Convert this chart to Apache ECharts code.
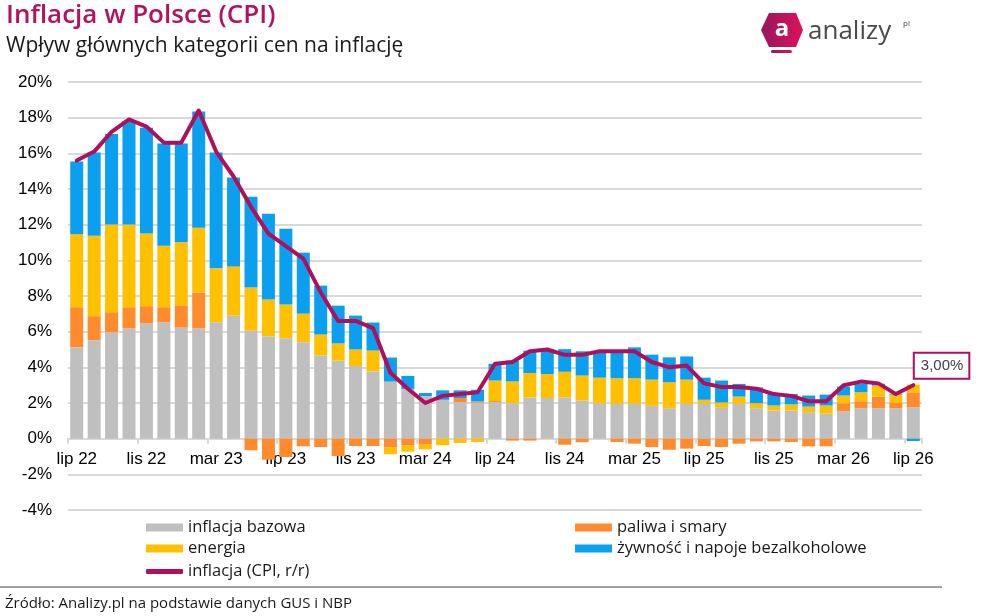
<!DOCTYPE html>
<html lang="pl">
<head>
<meta charset="utf-8">
<title>Inflacja w Polsce (CPI)</title>
<script src="https://cdn.jsdelivr.net/npm/echarts@6/dist/echarts.min.js"></script>
<style>
  html, body { margin: 0; padding: 0; background: #fff; }
  #chart { width: 984px; height: 616px; }
</style>
</head>
<body>
<div id="chart"></div>
<script>
// miesiace lip 22 - lip 26
var months = [
  'lip 22', 'sie 22', 'wrz 22', 'paź 22', 'lis 22', 'gru 22',
  'sty 23', 'lut 23', 'mar 23', 'kwi 23', 'maj 23', 'cze 23',
  'lip 23', 'sie 23', 'wrz 23', 'paź 23', 'lis 23', 'gru 23',
  'sty 24', 'lut 24', 'mar 24', 'kwi 24', 'maj 24', 'cze 24',
  'lip 24', 'sie 24', 'wrz 24', 'paź 24', 'lis 24', 'gru 24',
  'sty 25', 'lut 25', 'mar 25', 'kwi 25', 'maj 25', 'cze 25',
  'lip 25', 'sie 25', 'wrz 25', 'paź 25', 'lis 25', 'gru 25',
  'sty 26', 'lut 26', 'mar 26', 'kwi 26', 'maj 26', 'cze 26',
  'lip 26'
];

// wklad do inflacji (pkt proc.)
var bazowa = [
  5.13, 5.52, 5.97, 6.18, 6.47, 6.53, 6.23, 6.18, 6.53, 6.90, 6.06, 5.75,
  5.63, 5.41, 4.66, 4.38, 4.07, 3.77, 3.20, 2.79, 2.39, 2.18, 2.05, 2.01,
  2.05, 1.98, 2.31, 2.28, 2.32, 2.14, 1.99, 1.95, 1.95, 1.84, 1.71, 1.95,
  1.95, 1.73, 1.95, 1.71, 1.58, 1.58, 1.49, 1.40, 1.54, 1.71, 1.71, 1.71,
  1.77
];
var paliwa = [
  2.24, 1.35, 1.12, 1.19, 0.96, 0.84, 1.25, 2.01, 0.00, 0.00, -0.65, -1.18,
  -1.03, -0.43, -0.47, -0.97, -0.41, -0.41, -0.50, -0.39, -0.34, 0.00, 0.23, 0.08,
  0.06, -0.11, -0.11, 0.00, -0.34, -0.20, 0.00, -0.19, -0.28, -0.47, -0.62, -0.56,
  -0.41, -0.47, -0.28, -0.15, -0.15, -0.19, -0.43, -0.43, 0.45, 0.39, 0.65, 0.29,
  0.83
];
var energia = [
  4.09, 4.51, 4.92, 4.64, 4.08, 3.45, 3.53, 3.64, 3.02, 2.76, 2.41, 2.05,
  1.89, 1.60, 1.18, 0.96, 0.93, 1.17, -0.37, -0.34, -0.26, -0.37, -0.24, -0.19,
  1.15, 1.23, 1.37, 1.34, 1.43, 1.40, 1.43, 1.44, 1.44, 1.47, 1.45, 1.36,
  0.23, 0.30, 0.41, 0.28, 0.28, 0.34, 0.31, 0.46, 0.43, 0.50, 0.62, 0.47,
  0.43
];
var zywnosc = [
  4.08, 4.66, 5.08, 5.81, 5.93, 5.73, 5.54, 6.51, 6.49, 4.99, 5.09, 4.81,
  4.25, 3.42, 2.74, 2.12, 1.90, 1.57, 1.35, 0.73, 0.17, 0.53, 0.43, 0.65,
  0.94, 1.17, 1.26, 1.38, 1.27, 1.36, 1.47, 1.50, 1.73, 1.40, 1.40, 1.30,
  1.24, 1.23, 0.71, 0.89, 0.65, 0.59, 0.62, 0.61, 0.50, 0.47, 0.10, 0.05,
  -0.13
];
// CPI r/r (%)
var cpi = [
  15.6, 16.1, 17.2, 17.9, 17.5, 16.6, 16.6, 18.4, 16.1, 14.7, 13.0, 11.5,
  10.8, 10.1, 8.2, 6.6, 6.6, 6.2, 3.7, 2.8, 2.0, 2.4, 2.5, 2.6,
  4.2, 4.3, 4.9, 5.0, 4.7, 4.7, 4.9, 4.9, 4.9, 4.3, 4.0, 4.1,
  3.1, 2.9, 2.9, 2.8, 2.5, 2.4, 2.1, 2.1, 3.0, 3.2, 3.1, 2.5,
  3.0
];
var lastLabel = '3,00%';

var yMin = -4, yMax = 20, yStep = 2;

var C_BAZ = '#bfbfbf', C_PAL = '#ff8b2c', C_ENE = '#ffc000', C_ZYW = '#0ba0ef', C_CPI = '#b0105b';
var FONT = '"Open Sans", Lato, sans-serif';
var AXFONT = '"Liberation Sans", Arial, sans-serif';

var gridTop = 82, gridBottom = 106, chartH = 616;
// os X rysowana na wysokosci 0%
var plotH = chartH - gridTop - gridBottom;
var zeroOffset = -plotH * (0 - yMin) / (yMax - yMin);

var chart = echarts.init(document.getElementById('chart'));

var cpiData = cpi.map(function (v, i) {
  if (i === cpi.length - 1) {
    return {
      value: v,
      label: {
        show: true,
        formatter: lastLabel,
        position: [2, -31],
        color: '#404040',
        fontSize: 15,
        fontFamily: AXFONT,
        backgroundColor: '#fff',
        borderColor: C_CPI,
        borderWidth: 2,
        padding: [5, 5, 4, 6]
      }
    };
  }
  return v;
});

function barSeries(name, data, color) {
  return {
    name: name,
    type: 'bar',
    stack: 'cpi',
    barWidth: 13,
    itemStyle: { color: color },
    data: data
  };
}

var logoGrad = new echarts.graphic.LinearGradient(0, 0, 1, 0, [
  { offset: 0, color: '#96175f' },
  { offset: 1, color: '#dd1159' }
]);

var legendText = { fontSize: 16.5, color: '#1a1a1a', fontFamily: FONT };

var option = {
  animation: false,
  grid: { left: 68, right: 62, top: gridTop, bottom: gridBottom },
  legend: [
    {
      left: 146, top: 519, orient: 'vertical', itemGap: 4, padding: 0,
      itemWidth: 37, itemHeight: 8, icon: 'rect',
      textStyle: legendText,
      data: ['inflacja bazowa', 'energia']
    },
    {
      left: 575, top: 519, orient: 'vertical', itemGap: 4, padding: 0,
      itemWidth: 37, itemHeight: 8, icon: 'rect',
      textStyle: legendText,
      data: ['paliwa i smary', 'żywność i napoje bezalkoholowe']
    },
    {
      left: 146, top: 563, padding: 0, itemWidth: 37, itemHeight: 5, icon: 'roundRect',
      textStyle: legendText,
      data: ['inflacja (CPI, r/r)']
    }
  ],
  xAxis: {
    type: 'category',
    data: months,
    offset: zeroOffset,
    axisLine: { onZero: false, lineStyle: { color: '#d9d9d9', width: 2 } },
    axisTick: { show: true, interval: 3, length: 5, lineStyle: { color: '#d9d9d9', width: 2 } },
    axisLabel: { interval: 3, fontSize: 17, color: '#000', margin: 12, fontFamily: AXFONT }
  },
  yAxis: {
    type: 'value',
    min: yMin, max: yMax, interval: yStep,
    axisLine: { show: false },
    axisTick: { show: false },
    splitLine: { lineStyle: { color: '#d9d9d9', width: 2 } },
    axisLabel: { formatter: '{value}%', fontSize: 17, color: '#000', margin: 16, fontFamily: AXFONT }
  },
  series: [
    barSeries('inflacja bazowa', bazowa, C_BAZ),
    barSeries('paliwa i smary', paliwa, C_PAL),
    barSeries('energia', energia, C_ENE),
    barSeries('żywność i napoje bezalkoholowe', zywnosc, C_ZYW),
    {
      name: 'inflacja (CPI, r/r)',
      type: 'line',
      data: cpiData,
      symbol: 'circle',
      symbolSize: 1,
      showSymbol: true,
      showAllSymbol: true,
      itemStyle: { color: C_CPI },
      lineStyle: { color: C_CPI, width: 4, cap: 'round', join: 'round' },
      z: 5
    }
  ],
  graphic: [
    {
      type: 'text', left: 6, top: 3,
      style: { text: 'Inflacja w Polsce (CPI)', fill: '#b4115e', font: '600 26px ' + FONT }
    },
    {
      type: 'text', left: 6, top: 36,
      style: { text: 'Wpływ głównych kategorii cen na inflację', fill: '#1a1a1a', font: '21px ' + FONT }
    },
    {
      type: 'polygon',
      shape: { points: [[769, 13], [796, 13], [803, 30], [796, 47], [769, 47], [761, 30]] },
      style: { fill: logoGrad }
    },
    {
      type: 'rect',
      shape: { x: 771, y: 50, width: 21, height: 3, r: 1.5 },
      style: { fill: logoGrad }
    },
    {
      type: 'text', x: 782, y: 29,
      style: { text: 'a', fill: '#fff', font: 'bold 24px ' + FONT, align: 'center', verticalAlign: 'middle' }
    },
    {
      type: 'text', x: 808, y: 32,
      style: { text: 'analizy', fill: '#4a4a4a', font: '26px ' + FONT, verticalAlign: 'middle' }
    },
    {
      type: 'text', x: 903, y: 24,
      style: { text: 'pl', fill: '#4a4a4a', font: '8px ' + FONT, verticalAlign: 'middle' }
    },
    {
      type: 'line',
      shape: { x1: 0, y1: 587, x2: 942, y2: 587 },
      style: { stroke: '#404040', lineWidth: 1 }
    },
    {
      type: 'text', left: 5, top: 596,
      style: { text: 'Źródło: Analizy.pl na podstawie danych GUS i NBP', fill: '#1a1a1a', font: '15px ' + FONT }
    }
  ]
};

chart.setOption(option);
</script>
</body>
</html>
